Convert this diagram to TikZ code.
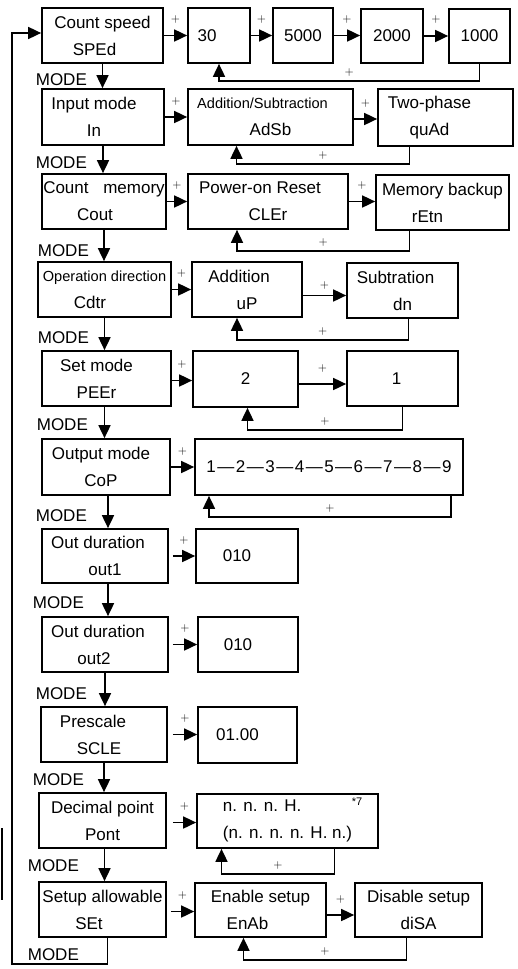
\documentclass[tikz,border=0pt]{standalone}
\usepackage{fontspec}
\setmainfont{Liberation Sans}
\usepackage{tikz}
\usetikzlibrary{arrows.meta}
\newcommand{\bigt}{\fontsize{17}{27}\selectfont}
\newcommand{\smallt}{\fontsize{14.6}{27}\selectfont}
\newcommand{\dsh}{\kern1.5pt—\kern1.5pt}
\newcommand{\padr}[2]{#2\hspace*{#1pt}}

\begin{document}
\begin{tikzpicture}[x=1pt, y=-1pt, line width=1.7pt,
  every node/.style={font=\bigt},
  box/.style={draw, inner sep=0pt, align=center},
  boxsize/.style 2 args={minimum width=#1pt, minimum height=#2pt},
  arr/.style={-{Triangle[length=13pt,width=12pt]}},
  plus/.style={font=\fontsize{12}{12}\selectfont, inner sep=0pt},
  plusf/.style={plus, yshift=16pt},
  plusr/.style={plus, pos=0.25, yshift=8pt},
  mode/.style={anchor=west, inner sep=0pt}]
  \useasboundingbox (0,0) rectangle (518,969);

  \node[box, boxsize={121}{55}] (spd) at (102.5,35.5) {Count speed\\\padr{16}{SPEd}};
  \node[box, boxsize={62}{55}] (s30) at (219,35.5) {\padr{24}{30}};
  \node[box, boxsize={60}{55}] (s5000) at (303,35.5) {5000};
  \node[box, boxsize={62}{54}] (s2000) at (392,36) {2000};
  \node[box, boxsize={61}{54}] (s1000) at (479.5,36) {1000};

  \node[box, boxsize={122}{56}] (inp) at (103,117) {\padr{18}{Input mode}\\\padr{18}{In}};
  \node[box, boxsize={165}{56}] (adsb) at (270.5,117) {\padr{16}{\smallt Addition/Subtraction}\\AdSb};
  \node[box, boxsize={135}{57}] (two) at (445.5,117.5) {\padr{32}{Two-phase}\\\padr{32}{quAd}};

  \node[box, boxsize={124}{55}] (cmem) at (104,201.5) {Count\hspace{10pt} memory\\\padr{18}{Cout}};
  \node[box, boxsize={160}{55}] (por) at (268,201.5) {\padr{16}{Power-on Reset}\\CLEr};
  \node[box, boxsize={133}{55}] (mbk) at (442.5,202.5) {Memory backup\\\padr{30}{rEtn}};

  \node[box, boxsize={133}{55}] (odir) at (104.5,289.5) {{\smallt Operation direction}\\\padr{29}{Cdtr}};
  \node[box, boxsize={110}{55}] (add) at (247,289.5) {\padr{16}{Addition}\\uP};
  \node[box, boxsize={111}{55}] (sub) at (402.5,290.5) {\padr{14}{Subtration}\\dn};

  \node[box, boxsize={129}{55}] (setm) at (106.5,378.5) {\padr{20}{Set mode}\\\padr{20}{PEEr}};
  \node[box, boxsize={105}{56}] (ptwo) at (245.5,379) {2};
  \node[box, boxsize={111}{55}] (pone) at (402.5,378.5) {\padr{12}{1}};

  \node[box, boxsize={128}{56}] (outm) at (106,467) {\padr{10}{Output mode}\\\padr{10}{CoP}};
  \node[box, boxsize={268}{56}] (seq) at (329,467) {1\dsh2\dsh3\dsh4\dsh5\dsh6\dsh7\dsh8\dsh9};

  \node[box, boxsize={126}{54}] (oone) at (105,556) {\padr{14}{Out duration}\\out1};
  \node[box, boxsize={102}{54}] (vone) at (247,556) {\padr{20}{010}};
  \node[box, boxsize={126}{55}] (otwo) at (105,644.5) {\padr{14}{Out duration}\\\padr{22}{out2}};
  \node[box, boxsize={100}{55}] (vtwo) at (248,644.5) {\padr{20}{010}};
  \node[box, boxsize={126}{55}] (psc) at (104,734.5) {\padr{22}{Prescale}\\\padr{10}{SCLE}};
  \node[box, boxsize={99}{56}] (vpsc) at (247.5,735) {\padr{20}{01.00}};

  \node[box, boxsize={127}{55}] (dp) at (102.5,820.5) {Decimal point\\Pont};
  \node[box, boxsize={181}{54}, align=left] (dpv) at (287.5,821) {n. n. n. H.\\(n. n. n. n. H. n.)};
  \node[font=\fontsize{11}{11}\selectfont, inner sep=0pt] (note) at (357,802) {*7};

  \node[box, boxsize={127}{55}] (sa) at (102.5,909.5) {Setup allowable\\\padr{27}{SEt}};
  \node[box, boxsize={131}{54}] (en) at (260.5,910) {Enable setup\\\padr{26}{EnAb}};
  \node[box, boxsize={127}{54}] (dis) at (418.5,910) {Disable setup\\diSA};

  % + keys
  \draw[arr] (spd.east) -- node[plusf] (pa1) {$+$} (spd.east -| s30.west);
  \draw[arr] (s30.east) -- node[plusf] (pa2) {$+$} (s30.east -| s5000.west);
  \draw[arr] (s5000.east) -- node[plusf] (pa3) {$+$} (s5000.east -| s2000.west);
  \draw[arr] (s2000.east) -- node[plusf] (pa4) {$+$} (s2000.east -| s1000.west);
  \draw[arr] (s1000.south) -- ++(0,17) -| node[plusr] (pr1) {$+$} (s30.south);

  \draw[arr] (inp.east) -- node[plusf] (pb1) {$+$} (inp.east -| adsb.west);
  \draw[arr] ([yshift=-2pt]adsb.east) -- node[plusf] (pb2) {$+$} ([yshift=-2pt]adsb.east -| two.west);
  \draw[arr] ([xshift=-36pt]two.south) -- ++(0,17) -| node[plusr] (pr2) {$+$} ([xshift=-34pt]adsb.south);

  \draw[arr] (cmem.east) -- node[plusf] (pc1) {$+$} (cmem.east -| por.west);
  \draw[arr] (por.east) -- node[plusf] (pc2) {$+$} (por.east -| mbk.west);
  \draw[arr] ([xshift=-33pt]mbk.south) -- ++(0,20) -| node[plusr] (pr3) {$+$} ([xshift=-31pt]por.south);

  \draw[arr] (odir.east) -- node[plusf] (pd1) {$+$} (odir.east -| add.west);
  \draw[arr] ([yshift=-6pt]add.east) -- node[plusf, yshift=-6pt] (pd2) {$+$} ([yshift=-6pt]add.east -| sub.west);
  \draw[arr] ([xshift=6pt]sub.south) -- ++(0,21) -| node[plusr] (pr4) {$+$} ([xshift=-10pt]add.south);

  \draw[arr] ([yshift=-2pt]setm.east) -- node[plusf] (pe1) {$+$} ([yshift=-2pt]setm.east -| ptwo.west);
  \draw[arr] ([yshift=-5pt]ptwo.east) -- node[plusf] (pe2) {$+$} ([yshift=-5pt]ptwo.east -| pone.west);
  \draw[arr] (pone.south) -- ++(0,23) -| node[plusr] (pr5) {$+$} ([xshift=2pt]ptwo.south);

  \draw[arr] (outm.east) -- node[plusf] (pf1) {$+$} (outm.east -| seq.west);
  \draw[arr] ([xshift=122pt]seq.south) -- ++(0,21) -| node[plusr] (pr6) {$+$} ([xshift=-120pt]seq.south);

  \draw[arr] ([xshift=4pt]oone.east) -- node[plusf] (pg1) {$+$} (oone.east -| vone.west);
  \draw[arr] ([xshift=4pt]otwo.east) -- node[plusf] (ph1) {$+$} (otwo.east -| vtwo.west);
  \draw[arr] ([xshift=5pt]psc.east) -- node[plusf] (pi1) {$+$} (psc.east -| vpsc.west);

  \draw[arr] ([yshift=-2pt,xshift=6pt]dp.east) -- node[plusf] (pj1) {$+$} ([yshift=-2pt]dp.east -| dpv.west);
  \draw[arr] ([xshift=47pt]dpv.south) -- ++(0,25) -| node[plusr] (pr7) {$+$} ([xshift=-66pt]dpv.south);

  \draw[arr] ([yshift=-2pt,xshift=4pt]sa.east) -- node[plusf] (pk1) {$+$} ([yshift=-2pt]sa.east -| en.west);
  \draw[arr] ([yshift=-5pt]en.east) -- node[plusf] (pk2) {$+$} ([yshift=-5pt]en.east -| dis.west);
  \draw[arr] ([xshift=-12pt]dis.south) -- ++(0,22) -| node[plusr] (pr8) {$+$} ([xshift=-17pt]en.south);

  % MODE keys
  \draw[arr] (spd.south) -- (spd.south |- inp.north);
  \draw[arr] (inp.south) -- (inp.south |- cmem.north);
  \draw[arr] (cmem.south) -- (cmem.south |- odir.north);
  \draw[arr] (odir.south) -- (odir.south |- setm.north);
  \draw[arr] ([xshift=-2pt]setm.south) -- ([xshift=-2pt]setm.south |- outm.north);
  \draw[arr] ([xshift=2pt]outm.south) -- ([xshift=2pt]outm.south |- oone.north);
  \draw[arr] ([xshift=3pt]oone.south) -- ([xshift=3pt]oone.south |- otwo.north);
  \draw[arr] (otwo.south) -- (otwo.south |- psc.north);
  \draw[arr] (psc.south) -- (psc.south |- dp.north);
  \draw[arr] ([xshift=2pt]dp.south) -- ([xshift=2pt]dp.south |- sa.north);
  \coordinate (back) at (12,964);
  \draw[arr] ([xshift=5pt]sa.south) |- (back) |- ([yshift=2.5pt]spd.west);

  \node[mode] (m1) at (35,80) {MODE};
  \node[mode] (m2) at (35,163) {MODE};
  \node[mode] (m3) at (37,251) {MODE};
  \node[mode] (m4) at (37,338) {MODE};
  \node[mode] (m5) at (36,425) {MODE};
  \node[mode] (m6) at (35,516) {MODE};
  \node[mode] (m7) at (32,603) {MODE};
  \node[mode] (m8) at (35,694) {MODE};
  \node[mode] (m9) at (32,780) {MODE};
  \node[mode] (m10) at (27,866) {MODE};
  \node[mode] (m11) at (27,955) {MODE};

  \draw[line width=1.2pt] (2,828) -- (2,900);
\end{tikzpicture}
\end{document}
